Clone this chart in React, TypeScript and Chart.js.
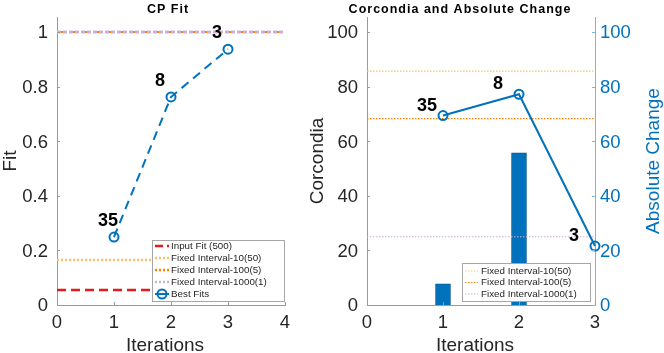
import React, { useEffect, useRef } from 'react';
import { Chart, registerables } from 'chart.js';
Chart.register(...registerables);

// ---- Left chart data (CP Fit) ----
const iterations = [1, 2, 3];
const fitValues = [0.249, 0.762, 0.937];
const rankLabels = ['35', '8', '3'];
const inputFit = 0.055;
const fitFixed10 = 0.165;
const fitFixed100 = 1.0;
const fitFixed1000 = 1.0;
const leftXRange = [0, 4];
const leftXTicks = [0, 1, 2, 3, 4];
const leftYTicks = [0, 0.2, 0.4, 0.6, 0.8, 1];
const leftYTickLabels = ['0', '0.2', '0.4', '0.6', '0.8', '1'];

// ---- Right chart data (Corcondia and Absolute Change) ----
const corcondiaIter = [1, 2];
const corcondiaValues = [7.8, 55.7];
const absChange = [69.4, 77.2, 21.6];
const corFixed10 = 85.7;
const corFixed100 = 68.3;
const corFixed1000 = 25;
const rightXRange = [0, 3];
const rightXTicks = [0, 1, 2, 3];
const rightYTicks = [0, 20, 40, 60, 80, 100];

const FONT = "'Liberation Sans', Arial, Helvetica, sans-serif";
const BLUE = '#0072BD';
const RED = '#E41A1C';
const LORANGE = '#FDBF6F';
const DORANGE = '#FF7F00';
const LAVENDER = '#CAB2D6';
const TXT = '#262626';
const AXIS = '#9a9a9a';
const AXIS2 = '#7fb5da';

const hline = (y: number, r: number[]) => [
  { x: r[0], y },
  { x: r[1], y },
];

type LegendItem = { label: string; color: string; dash: number[]; width: number; marker?: boolean };

function makePlugin(cfg: {
  id: string;
  title: string;
  titleX: number;
  xTitle: string;
  xTitleX: number;
  yTitle: string;
  yTitleX: number;
  y2Title?: string;
  y2TitleX?: number;
  yLabelRight: number;
  y2LabelLeft?: number;
  yLabelFmt?: (v: number, i: number) => string;
  pointDataset: number;
  labelDx: number;
  labelDy: number;
  legend: LegendItem[];
  legendBox: { x: number; y: number; w: number; h: number; row0: number; step: number; sx0: number; sx1: number; tx: number };
}) {
  return {
    id: cfg.id,
    afterDraw(chart: any) {
      const ctx = chart.ctx as CanvasRenderingContext2D;
      const ca = chart.chartArea;
      ctx.save();
      // inward ticks + tick labels
      Object.values(chart.scales).forEach((sc: any) => {
        ctx.lineWidth = 1;
        ctx.strokeStyle = sc.id === 'y2' ? AXIS2 : AXIS;
        ctx.font = `18.5px ${FONT}`;
        ctx.textBaseline = 'alphabetic';
        ctx.fillStyle = sc.id === 'y2' ? BLUE : TXT;
        sc.ticks.forEach((t: any, i: number) => {
          const raw = sc.getPixelForValue(t.value);
          const p = Math.round(raw) + 0.5;
          ctx.beginPath();
          if (sc.axis === 'x') {
            ctx.moveTo(p, ca.bottom);
            ctx.lineTo(p, ca.bottom - 3);
            ctx.stroke();
            ctx.textAlign = 'center';
            ctx.fillText(String(t.value), raw, 328);
          } else if (sc.position === 'left') {
            ctx.moveTo(ca.left, p);
            ctx.lineTo(ca.left + 3, p);
            ctx.stroke();
            ctx.textAlign = 'right';
            const s = cfg.yLabelFmt ? cfg.yLabelFmt(t.value, i) : String(t.value);
            ctx.fillText(s, cfg.yLabelRight, raw + 6.3);
          } else {
            ctx.moveTo(ca.right, p);
            ctx.lineTo(ca.right - 3, p);
            ctx.stroke();
            ctx.textAlign = 'left';
            ctx.fillText(String(t.value), cfg.y2LabelLeft!, raw + 6.3);
          }
        });
      });
      // title
      ctx.fillStyle = '#000';
      ctx.font = `bold 12.5px ${FONT}`;
      (ctx as any).letterSpacing = '1px';
      ctx.textAlign = 'center';
      ctx.textBaseline = 'alphabetic';
      ctx.fillText(cfg.title, cfg.titleX, 12.5);
      (ctx as any).letterSpacing = '0px';
      // x title
      ctx.fillStyle = TXT;
      ctx.font = `19px ${FONT}`;
      ctx.fillText(cfg.xTitle, cfg.xTitleX, 351);
      // y title
      ctx.save();
      ctx.translate(cfg.yTitleX, (ca.top + ca.bottom) / 2);
      ctx.rotate(-Math.PI / 2);
      ctx.textBaseline = 'middle';
      ctx.fillText(cfg.yTitle, 0, 0);
      ctx.restore();
      if (cfg.y2Title) {
        ctx.save();
        ctx.translate(cfg.y2TitleX!, (ca.top + ca.bottom) / 2);
        ctx.rotate(-Math.PI / 2);
        ctx.textBaseline = 'middle';
        ctx.fillStyle = BLUE;
        ctx.fillText(cfg.y2Title, 0, 0);
        ctx.restore();
      }
      // data labels
      const meta = chart.getDatasetMeta(cfg.pointDataset);
      ctx.fillStyle = '#000';
      ctx.font = `bold 18px ${FONT}`;
      ctx.textAlign = 'left';
      ctx.textBaseline = 'middle';
      meta.data.forEach((el: any, i: number) => {
        ctx.fillText(rankLabels[i], el.x + cfg.labelDx, el.y + cfg.labelDy);
      });
      // legend
      const lb = cfg.legendBox;
      ctx.fillStyle = '#fff';
      ctx.fillRect(lb.x, lb.y, lb.w, lb.h);
      ctx.strokeStyle = '#a6a6a6';
      ctx.lineWidth = 1;
      ctx.strokeRect(lb.x + 0.5, lb.y + 0.5, lb.w, lb.h);
      ctx.font = `9.8px ${FONT}`;
      ctx.textAlign = 'left';
      ctx.textBaseline = 'middle';
      cfg.legend.forEach((it, i) => {
        const y = lb.row0 + i * lb.step;
        ctx.strokeStyle = it.color;
        ctx.lineWidth = it.width;
        ctx.setLineDash(it.dash);
        ctx.beginPath();
        ctx.moveTo(lb.sx0, y);
        ctx.lineTo(lb.sx1, y);
        ctx.stroke();
        ctx.setLineDash([]);
        if (it.marker) {
          ctx.beginPath();
          ctx.arc((lb.sx0 + lb.sx1) / 2, y, 4.5, 0, Math.PI * 2);
          ctx.stroke();
        }
        ctx.fillStyle = TXT;
        ctx.fillText(it.label, lb.tx, y);
      });
      ctx.restore();
    },
  };
}

const fixTicks = (arr: number[]) => (sc: any) => {
  sc.ticks = arr.map((v) => ({ value: v }));
};

const LEFT_W = 300;
const RIGHT_X = 300;
const RIGHT_W = 664 - RIGHT_X;

function LeftChart() {
  const ref = useRef<HTMLCanvasElement>(null);
  useEffect(() => {
    const plugin = makePlugin({
      id: 'leftDecor',
      title: 'CP Fit',
      titleX: 168,
      xTitle: 'Iterations',
      xTitleX: 165,
      yTitle: 'Fit',
      yTitleX: 11,
      yLabelRight: 48,
      yLabelFmt: (_v, i) => leftYTickLabels[i],
      pointDataset: 0,
      labelDx: -16,
      labelDy: -16,
      legend: [
        { label: 'Input Fit (500)', color: RED, dash: [8, 4], width: 2.5 },
        { label: 'Fixed Interval-10(50)', color: LORANGE, dash: [2, 2], width: 2.5 },
        { label: 'Fixed Interval-100(5)', color: DORANGE, dash: [2, 2], width: 2.5 },
        { label: 'Fixed Interval-1000(1)', color: LAVENDER, dash: [2, 2], width: 2.5 },
        { label: 'Best Fits', color: BLUE, dash: [], width: 2, marker: true },
      ],
      legendBox: { x: 152, y: 240, w: 132, h: 61, row0: 246, step: 12, sx0: 155, sx1: 169, tx: 171 },
    });
    const chart = new Chart(ref.current!, {
      type: 'line',
      data: {
        datasets: [
          {
            label: 'Best Fits',
            data: iterations.map((x, i) => ({ x, y: fitValues[i] })),
            borderColor: BLUE,
            borderWidth: 2,
            borderDash: [9, 6],
            pointRadius: 4.5,
            pointBorderWidth: 2,
            pointBorderColor: BLUE,
            pointBackgroundColor: 'rgba(0,0,0,0)',
            tension: 0,
            clip: false,
          },
          {
            label: 'Fixed Interval-1000(1)',
            data: hline(fitFixed1000, leftXRange),
            borderColor: LAVENDER,
            borderWidth: 3,
            borderDash: [4, 2],
            pointRadius: 0,
          },
          {
            label: 'Fixed Interval-100(5)',
            data: hline(fitFixed100, leftXRange),
            borderColor: DORANGE,
            borderWidth: 2,
            borderDash: [2, 2],
            pointRadius: 0,
          },
          {
            label: 'Fixed Interval-10(50)',
            data: hline(fitFixed10, leftXRange),
            borderColor: LORANGE,
            borderWidth: 2.5,
            borderDash: [2, 2],
            pointRadius: 0,
          },
          {
            label: 'Input Fit (500)',
            data: hline(inputFit, leftXRange),
            borderColor: RED,
            borderWidth: 2.5,
            borderDash: [9, 5],
            pointRadius: 0,
          },
        ],
      },
      options: {
        animation: false,
        responsive: false,
        layout: { padding: { top: 17, right: LEFT_W - 285, left: 0, bottom: 0 } },
        plugins: { legend: { display: false }, tooltip: { enabled: false }, title: { display: false } },
        scales: {
          x: {
            type: 'linear',
            min: 0,
            max: 4,
            afterBuildTicks: fixTicks(leftXTicks),
            afterFit: (sc: any) => { sc.height = 48; },
            grid: { display: false },
            border: { color: AXIS, width: 1 },
            ticks: { display: false },
          },
          y: {
            type: 'linear',
            min: 0,
            max: 1.055,
            afterBuildTicks: fixTicks(leftYTicks),
            afterFit: (sc: any) => { sc.width = 57; },
            grid: { display: false },
            border: { color: AXIS, width: 1 },
            ticks: { display: false },
          },
        },
      },
      plugins: [plugin],
    });
    return () => chart.destroy();
  }, []);
  return <canvas ref={ref} width={LEFT_W} height={353} style={{ position: 'absolute', left: 0, top: 0, width: LEFT_W, height: 353 }} />;
}

function RightChart() {
  const ref = useRef<HTMLCanvasElement>(null);
  useEffect(() => {
    const o = RIGHT_X;
    const plugin = makePlugin({
      id: 'rightDecor',
      title: 'Corcondia and Absolute Change',
      titleX: 460 - o,
      xTitle: 'Iterations',
      xTitleX: 475 - o,
      yTitle: 'Corcondia',
      yTitleX: 318 - o,
      y2Title: 'Absolute Change',
      y2TitleX: 654 - o,
      yLabelRight: 358 - o,
      y2LabelLeft: 600 - o,
      pointDataset: 0,
      labelDx: -26,
      labelDy: -10,
      legend: [
        { label: 'Fixed Interval-10(50)', color: LORANGE, dash: [1.5, 1.5], width: 1.2 },
        { label: 'Fixed Interval-100(5)', color: DORANGE, dash: [1.5, 1.5], width: 1.2 },
        { label: 'Fixed Interval-1000(1)', color: LAVENDER, dash: [1.5, 1.5], width: 1.2 },
      ],
      legendBox: { x: 462 - o, y: 263, w: 128, h: 38, row0: 271, step: 11.5, sx0: 465 - o, sx1: 478 - o, tx: 481 - o },
    });
    const chart = new Chart(ref.current!, {
      type: 'line',
      data: {
        datasets: [
          {
            label: 'Absolute Change',
            data: iterations.map((x, i) => ({ x, y: absChange[i] })),
            yAxisID: 'y2',
            borderColor: BLUE,
            borderWidth: 2,
            pointRadius: 4.5,
            pointBorderWidth: 2,
            pointBorderColor: BLUE,
            pointBackgroundColor: 'rgba(0,0,0,0)',
            tension: 0,
            clip: false,
          },
          {
            label: 'Fixed Interval-1000(1)',
            data: hline(corFixed1000, rightXRange),
            borderColor: LAVENDER,
            borderWidth: 1.2,
            borderDash: [1.5, 1.5],
            pointRadius: 0,
          },
          {
            label: 'Fixed Interval-100(5)',
            data: hline(corFixed100, rightXRange),
            borderColor: DORANGE,
            borderWidth: 1.2,
            borderDash: [1.5, 1.5],
            pointRadius: 0,
          },
          {
            label: 'Fixed Interval-10(50)',
            data: hline(corFixed10, rightXRange),
            borderColor: LORANGE,
            borderWidth: 1.2,
            borderDash: [1.5, 1.5],
            pointRadius: 0,
          },
          {
            type: 'bar',
            label: 'Corcondia',
            data: corcondiaIter.map((x, i) => ({ x, y: corcondiaValues[i] })),
            backgroundColor: BLUE,
            borderColor: '#0a5c96',
            borderWidth: 1,
            barThickness: 15,
          } as any,
        ],
      },
      options: {
        animation: false,
        responsive: false,
        layout: { padding: { top: 17, right: 0, left: 0, bottom: 0 } },
        plugins: { legend: { display: false }, tooltip: { enabled: false }, title: { display: false } },
        scales: {
          x: {
            type: 'linear',
            min: 0,
            max: 3,
            offset: false,
            afterBuildTicks: fixTicks(rightXTicks),
            afterFit: (sc: any) => { sc.height = 48; },
            grid: { display: false },
            border: { color: AXIS, width: 1 },
            ticks: { display: false },
          },
          y: {
            type: 'linear',
            position: 'left',
            min: 0,
            max: 105.5,
            afterBuildTicks: fixTicks(rightYTicks),
            afterFit: (sc: any) => { sc.width = 367 - o; },
            grid: { display: false },
            border: { color: AXIS, width: 1 },
            ticks: { display: false },
          },
          y2: {
            type: 'linear',
            position: 'right',
            min: 0,
            max: 105.5,
            afterBuildTicks: fixTicks(rightYTicks),
            afterFit: (sc: any) => { sc.width = 664 - 595; },
            grid: { display: false },
            border: { color: AXIS2, width: 1 },
            ticks: { display: false },
          },
        },
      },
      plugins: [plugin],
    });
    return () => chart.destroy();
  }, []);
  return <canvas ref={ref} width={RIGHT_W} height={353} style={{ position: 'absolute', left: RIGHT_X, top: 0, width: RIGHT_W, height: 353 }} />;
}

export default function App() {
  return (
    <div style={{ position: 'fixed', left: 0, top: 0, width: 664, height: 353, background: '#fff' }}>
      <LeftChart />
      <RightChart />
    </div>
  );
}
